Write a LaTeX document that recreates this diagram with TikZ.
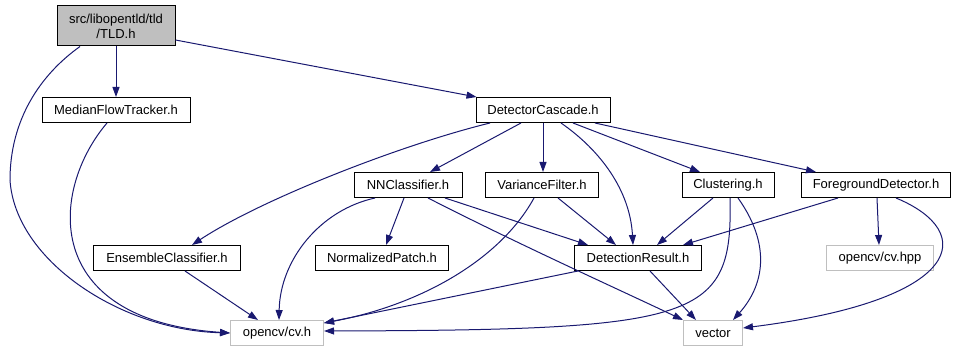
\documentclass[tikz,border=0pt]{standalone}
\usepackage{fontspec}
\setmainfont{Liberation Sans}
\usetikzlibrary{arrows.meta,positioning}
\definecolor{edgeblue}{HTML}{191970}
\definecolor{extgrey}{HTML}{BFBFBF}
\tikzset{%
	header/.style    = {draw, rectangle, line width=1pt, minimum height=25pt, inner sep=0pt, text centered, font=\fontsize{13}{15}\selectfont},
	extheader/.style = {header, draw=extgrey},
	incl/.style      = {edgeblue, line width=1pt, -{Triangle[length=10pt,width=7pt]}},
}
\begin{document}
\begin{tikzpicture}[x=1pt,y=-1pt]
	\useasboundingbox (0,0) rectangle (957,352);
	\node[header, fill=extgrey, minimum width=118pt, minimum height=40pt, align=center] (tld) at (116,26) {src/libopentld/tld\\/TLD.h};
	\node[header, minimum width=148pt] (mft) at (116,110) {MedianFlowTracker.h};
	\node[header, minimum width=134pt] (dc) at (543,110) {DetectorCascade.h};
	\node[header, minimum width=108pt] (nn) at (408,185) {NNClassifier.h};
	\node[header, minimum width=113pt] (vf) at (542,185) {VarianceFilter.h};
	\node[header, minimum width=92pt] (clu) at (728,185) {Clustering.h};
	\node[header, minimum width=149pt] (fd) at (876,185) {ForegroundDetector.h};
	\node[header, minimum width=147pt] (ens) at (167,258) {EnsembleClassifier.h};
	\node[header, minimum width=133pt] (np) at (382,258) {NormalizedPatch.h};
	\node[header, minimum width=127pt] (dr) at (638,258) {DetectionResult.h};
	\node[extheader, minimum width=107pt] (hpp) at (880,258) {opencv/cv.hpp};
	\node[extheader, minimum width=93pt] (cvh) at (277,333) {opencv/cv.h};
	\node[extheader, minimum width=59pt] (vec) at (713,333) {vector};

	\draw[incl] (tld.south) -- (mft.north);
	\draw[incl] ([yshift=-14pt]tld.east) -- ([xshift=1pt]dc.north west);
	\draw[incl] ([xshift=-36pt]tld.south) .. controls (40,75) and (10,120) .. (10,180) .. controls (15,260) and (120,330) .. (cvh.west);
	\draw[incl] ([xshift=-9pt]mft.south) .. controls (50,190) and (40,320) .. (cvh.west);

	\draw[incl] ([xshift=-53pt]dc.south) .. controls (400,145) and (260,200) .. ([xshift=25pt]ens.north);
	\draw[incl] ([xshift=-22pt]dc.south) -- ([xshift=22pt]nn.north);
	\draw[incl] (dc.south) -- ([xshift=1pt]vf.north);
	\draw[incl] ([xshift=18pt]dc.south) .. controls (600,150) and (630,190) .. ([xshift=-5pt]dr.north);
	\draw[incl] ([xshift=30pt]dc.south) -- ([xshift=-28pt]clu.north);
	\draw[incl] ([xshift=52pt]dc.south) -- ([xshift=-60pt]fd.north);

	\draw[incl] ([xshift=-33pt]nn.south) .. controls (320,210) and (280,260) .. ([xshift=2pt]cvh.north);
	\draw[incl] ([xshift=-4pt]nn.south) -- ([xshift=4pt]np.north);
	\draw[incl] ([xshift=37pt]nn.south) -- ([xshift=-50pt]dr.north);
	\draw[incl] ([xshift=20pt]nn.south) .. controls (520,245) and (620,290) .. (vec.north west);

	\draw[incl] ([xshift=-8pt]vf.south) .. controls (500,260) and (420,305) .. ([yshift=10pt]cvh.east);
	\draw[incl] ([xshift=16pt]vf.south) -- ([xshift=-22pt]dr.north);

	\draw[incl] ([xshift=2pt]clu.south) .. controls (733,320) and (700,330) .. ([yshift=2pt]cvh.east);
	\draw[incl] ([xshift=10pt]clu.south) .. controls (775,250) and (760,290) .. ([xshift=20pt]vec.north);
	\draw[incl] ([xshift=-15pt]clu.south) -- ([xshift=19pt]dr.north);

	\draw[incl] ([xshift=-38pt]fd.south) -- ([xshift=45pt]dr.north);
	\draw[incl] ([xshift=1pt]fd.south) -- ([xshift=-1pt]hpp.north);
	\draw[incl] ([xshift=20pt]fd.south) .. controls (978,232) and (965,300) .. ([yshift=5pt]vec.east);

	\draw[incl] ([xshift=18pt]ens.south) -- ([xshift=-19pt]cvh.north);
	\draw[incl] ([xshift=-60pt]dr.south) -- ([yshift=10pt]cvh.east);
	\draw[incl] ([xshift=12pt]dr.south) -- ([xshift=-17pt]vec.north);
\end{tikzpicture}
\end{document}
